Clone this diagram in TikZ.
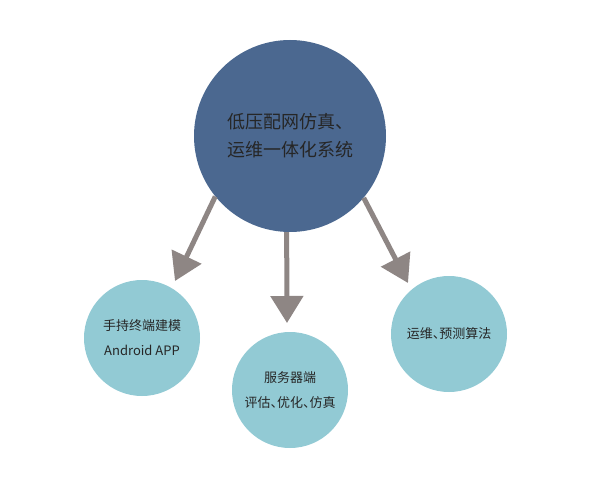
\documentclass[tikz,border=0pt]{standalone}
\usepackage{fontspec}
\setmainfont{Noto Sans CJK SC}
\usetikzlibrary{arrows.meta}

\definecolor{hubblue}{HTML}{4B6890}
\definecolor{leafcyan}{HTML}{92CAD4}
\definecolor{arrowgray}{HTML}{8E8684}
\newcommand{\halfdun}{\makebox[.5em][l]{、}}

\begin{document}
\begin{tikzpicture}[x=1pt,y=-1pt,
    hub/.style={circle,fill=hubblue,minimum size=192pt,inner sep=0pt,text=black!85,align=center,font=\fontsize{18}{28}\selectfont},
    leaf/.style={circle,fill=leafcyan,minimum size=116pt,inner sep=0pt,text=black!85,align=center,font=\fontsize{13}{25}\selectfont},
    feed/.style={arrowgray,line width=5pt,-{Triangle[length=27pt,width=32pt]}}]
    \useasboundingbox (0,0) rectangle (597,481);

    % central system
    \node[hub] (sys) at (290,136) {低压配网仿真、\\运维一体化系统};

    % three parts
    \node[leaf] (app) at (142,338) {手持终端建模\\Android APP};
    \node[leaf] (srv) at (290,390) {服务器端\\评估\halfdun 优化\halfdun 仿真};
    \node[leaf] (alg) at (449,334) {运维\halfdun 预测算法};

    % arrow tips
    \coordinate (tipapp) at (175,281);
    \coordinate (tipsrv) at (287,323);
    \coordinate (tipalg) at (408,283);

    \draw[feed] (sys.219) -- (tipapp);
    \draw[feed] (sys.268) -- (tipsrv);
    \draw[feed] (sys.320) -- (tipalg);
\end{tikzpicture}
\end{document}
